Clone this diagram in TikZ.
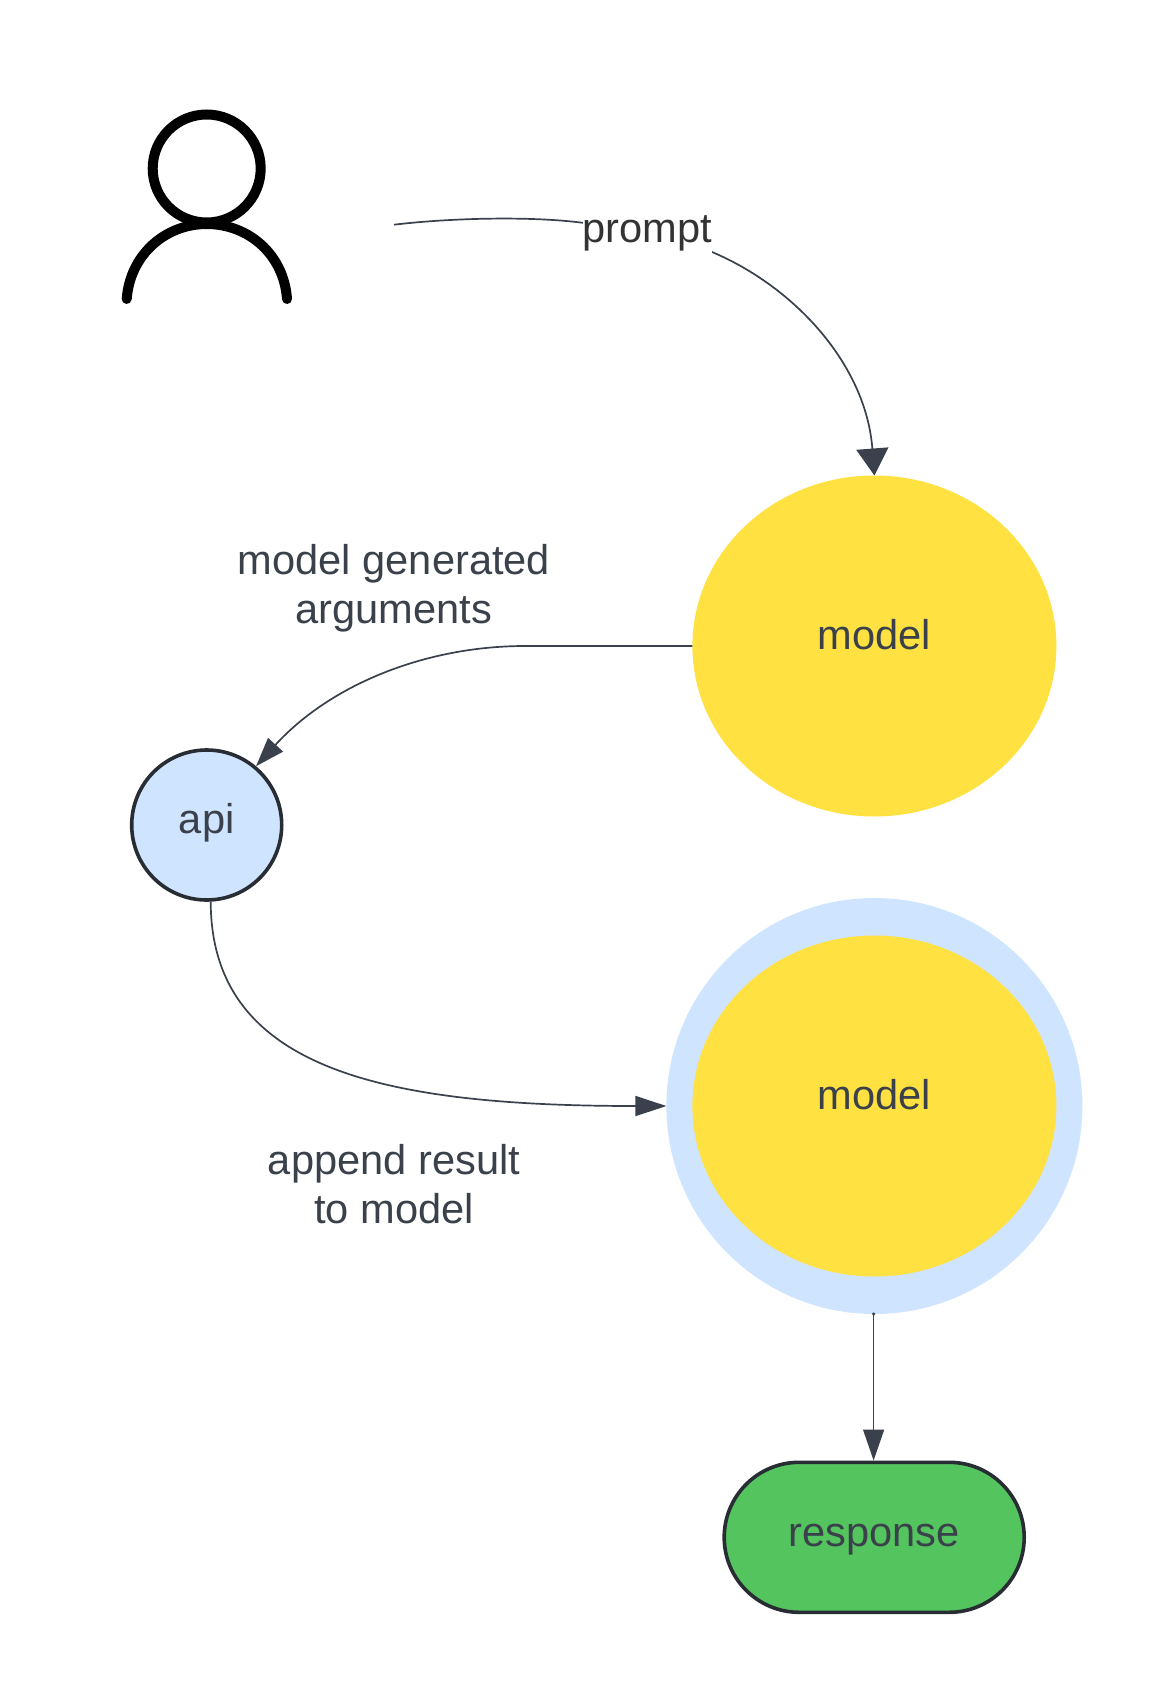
\documentclass[tikz,border=0pt]{standalone}
\usepackage{fontspec}
\setmainfont{Liberation Sans}
\usetikzlibrary{shapes.geometric,arrows.meta}
\definecolor{ink}{HTML}{3A414A}
\definecolor{edgeink}{HTML}{3A414C}
\definecolor{rim}{HTML}{282C33}
\definecolor{promptink}{HTML}{333333}
\definecolor{sun}{HTML}{FFE142}
\definecolor{sky}{HTML}{CFE4FF}
\definecolor{leaf}{HTML}{54C45E}
\tikzset{
  lbl/.style={anchor=base,inner sep=0pt,outer sep=0pt,text=ink,align=center,font=\fontsize{41.6}{51}\selectfont},
  modelshape/.style={ellipse,fill=sun,minimum width=364pt,minimum height=341pt,inner sep=0pt,outer sep=0pt},
  conn/.style={draw=edgeink,line width=1.7pt},
  icon/.style={draw=black,line width=10pt,line cap=round}
}
\begin{document}
\begin{tikzpicture}[x=1pt,y=-1pt]
\useasboundingbox (0,0) rectangle (1155,1688);
\fill[white] (0,0) rectangle (1155,1688);
% user icon
\node[circle,draw=black,line width=10pt,minimum size=108pt,inner sep=0pt,outer sep=0pt] (userhead) at (206.7,168.5) {};
\coordinate (bodyl) at (126.7,299);
\coordinate (bodytop) at (206.7,224);
\coordinate (bodyr) at (287,299);
\draw[icon] (bodyl) .. controls (130,255) and (165,224) .. (bodytop) .. controls (249,224) and (284,255) .. (bodyr);
% shapes
\node[modelshape] (modela) at (874.4,646) {};
\node[circle,fill=sky,minimum size=416pt,inner sep=0pt,outer sep=0pt] (halo) at (874.4,1106) {};
\node[modelshape] (modelb) at (874.4,1106) {};
\node[circle,draw=rim,fill=sky,line width=3.6pt,minimum size=150pt,inner sep=0pt,outer sep=1.8pt] (api) at (206.7,825) {};
\node[rectangle,rounded corners=75pt,draw=rim,fill=leaf,line width=3.6pt,minimum width=300pt,minimum height=150pt,inner sep=0pt,outer sep=1.8pt] (resp) at (874.2,1537.3) {};
% connectors
\coordinate (userout) at (394,224.7);
\draw[conn,-{Triangle[length=27pt,width=32pt,fill=edgeink]}] (userout) .. controls (450,218) and (530,216) .. (582,222.7) .. controls (630,229) and (670,235) .. (712,252) .. controls (795,287) and (866,365) .. (modela.north);
\node[lbl,text=promptink,fill=white,inner xsep=0pt,inner ysep=8pt,text height=30pt,text depth=10pt] (promptlbl) at (647.5,242.2) {prompt};
\coordinate (kneeA) at (525,646);
\draw[conn,-{Triangle[length=29pt,width=20pt,fill=edgeink]}] (modela.west) -- (kneeA) .. controls (425,646) and (330,685) .. (api.50);
\draw[conn,-{Triangle[length=31pt,width=20pt,fill=edgeink]}] (api.273) .. controls (211,1070) and (385,1106) .. (halo.west);
\fill[edgeink] ([xshift=-.8pt]halo.south) circle (1.7pt);
\draw[conn,line width=1.3pt,-{Triangle[length=31pt,width=21pt,fill=edgeink]}] ([xshift=-.8pt]halo.south) -- ([xshift=-.6pt]resp.north);
% labels
\node[lbl] (lblmodela) at (874.4,649.5) {model};
\node[lbl] (lblmodelb) at (874.4,1109.5) {model};
\node[lbl] (lblapi) at (206.7,833.5) {api};
\node[lbl] (lblresp) at (874,1546) {response};
\node[lbl] (lblgena) at (394,574.2) {model generated};
\node[lbl] (lblgenb) at (394,623.5) {arguments};
\node[lbl] (lblappa) at (394,1174.2) {append result};
\node[lbl] (lblappb) at (394,1223.5) {to model};
\end{tikzpicture}
\end{document}
